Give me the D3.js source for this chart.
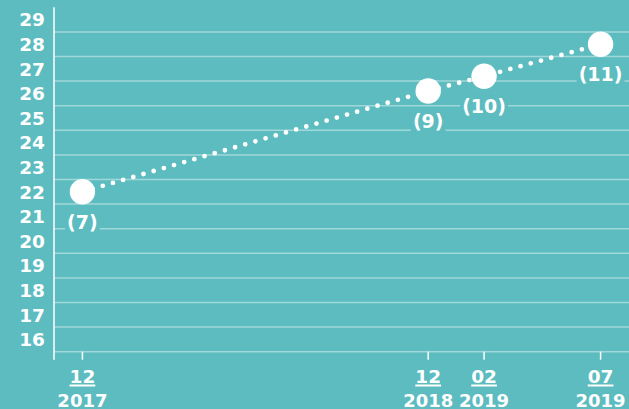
<!DOCTYPE html>
<html>
<head>
<meta charset="utf-8">
<script src="https://cdn.jsdelivr.net/npm/d3@7"></script>
<style>
  html, body { margin: 0; padding: 0; background: #5cbcbf; }
  svg { display: block; }
  text { font-family: "DejaVu Sans", sans-serif; font-weight: 700; fill: #fff; }
</style>
</head>
<body>
<div id="chart"></div>
<script>
// data
var dates = ["2017-12-31", "2018-12-31", "2019-02-28", "2019-07-01"];
var values = [22.0, 26.1, 26.7, 28.0];
var pointLabels = ["(7)", "(9)", "(10)", "(11)"];
var monthLabels = ["12", "12", "02", "07"];
var yearLabels = ["2017", "2018", "2019", "2019"];
var yTicks = d3.range(16, 30);

var W = 629, H = 409, bg = "#5cbcbf";
var parse = d3.timeParse("%Y-%m-%d");

var svg = d3.select("#chart").append("svg")
  .attr("width", W)
  .attr("height", H);

svg.append("rect").attr("width", W).attr("height", H).attr("fill", bg);

var x = d3.scaleTime()
  .domain([parse("2017-12-01"), parse("2019-07-31")])
  .range([54, 629]);

var y = d3.scaleLinear()
  .domain([15.5, 29.5])
  .range([351.7, 7.3]);

// horizontal grid, halfway between the labels
var gridVals = d3.range(15.5, 29, 1);
svg.append("g").selectAll("line")
  .data(gridVals)
  .enter().append("line")
  .attr("x1", x.range()[0])
  .attr("x2", x.range()[1])
  .attr("y1", function(d) { return y(d); })
  .attr("y2", function(d) { return y(d); })
  .attr("stroke", "rgba(255,255,255,0.42)")
  .attr("stroke-width", 1.5);

// y axis line
svg.append("line")
  .attr("x1", 54).attr("x2", 54)
  .attr("y1", y(29.5)).attr("y2", y(15.5) + 8)
  .attr("stroke", "#fff").attr("stroke-width", 1.5);

// y labels
svg.append("g").selectAll("text")
  .data(yTicks)
  .enter().append("text")
  .attr("x", 45)
  .attr("y", function(d) { return y(d); })
  .attr("dy", "0.37em")
  .attr("text-anchor", "end")
  .style("font-size", "18.5px")
  .text(function(d) { return d; });

var pts = dates.map(function(d, i) {
  return { date: parse(d), value: values[i], label: pointLabels[i], month: monthLabels[i], year: yearLabels[i] };
});

// x ticks
svg.append("g").selectAll("line")
  .data(pts)
  .enter().append("line")
  .attr("x1", function(d) { return x(d.date); })
  .attr("x2", function(d) { return x(d.date); })
  .attr("y1", y(15.5))
  .attr("y2", y(15.5) + 8)
  .attr("stroke", "#fff").attr("stroke-width", 1.5);

// x labels: month (underlined) over year
var xl = svg.append("g").selectAll("g")
  .data(pts)
  .enter().append("g")
  .attr("transform", function(d) { return "translate(" + x(d.date) + ",0)"; });

xl.append("text")
  .attr("y", 383)
  .attr("text-anchor", "middle")
  .style("font-size", "18.5px")
  .text(function(d) { return d.month; })
  .each(function() {
    var b = this.getBBox();
    d3.select(this.parentNode).append("line")
      .attr("x1", b.x).attr("x2", b.x + b.width)
      .attr("y1", 385.5).attr("y2", 385.5)
      .attr("stroke", "#fff").attr("stroke-width", 2);
  });

xl.append("text")
  .attr("y", 407)
  .attr("text-anchor", "middle")
  .style("font-size", "18px")
  .text(function(d) { return d.year; });

// dotted line
var line = d3.line()
  .x(function(d) { return x(d.date); })
  .y(function(d) { return y(d.value); });

svg.append("path")
  .datum(pts)
  .attr("d", line)
  .attr("fill", "none")
  .attr("stroke", "#fff")
  .attr("stroke-width", 4.8)
  .attr("stroke-linecap", "round")
  .attr("stroke-dasharray", "0 10.6");

// point labels with a background knock-out
var pl = svg.append("g").selectAll("g")
  .data(pts)
  .enter().append("g")
  .attr("transform", function(d) { return "translate(" + x(d.date) + "," + (y(d.value) + 30) + ")"; });

pl.append("text")
  .attr("text-anchor", "middle")
  .attr("dy", "0.37em")
  .style("font-size", "19px")
  .text(function(d) { return d.label; })
  .each(function() {
    var b = this.getBBox();
    d3.select(this.parentNode).insert("rect", "text")
      .attr("x", b.x - 2).attr("y", b.y)
      .attr("width", b.width + 4).attr("height", b.height)
      .attr("fill", bg);
  });

// circles
svg.append("g").selectAll("circle")
  .data(pts)
  .enter().append("circle")
  .attr("cx", function(d) { return x(d.date); })
  .attr("cy", function(d) { return y(d.value); })
  .attr("r", 12.7)
  .attr("fill", "#fff");
</script>
</body>
</html>
